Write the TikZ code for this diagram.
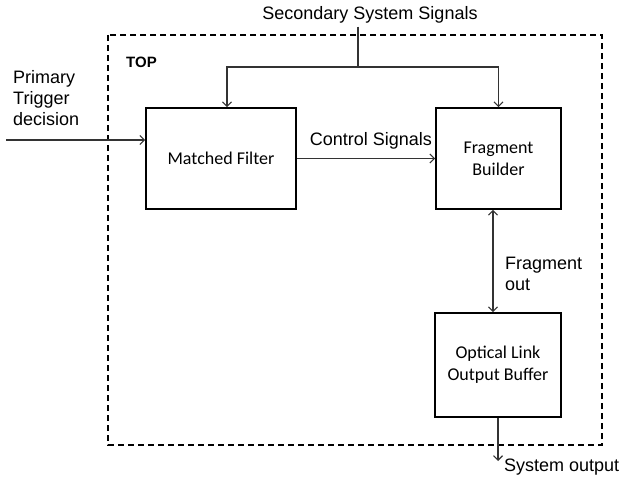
\documentclass[tikz,border=0pt]{standalone}
\usepackage{fontspec}
\setmainfont{Liberation Sans}
\newfontfamily\boxfont{Carlito}
\usetikzlibrary{arrows.meta}
\tikzset{
  block/.style={draw=black, line width=1.8pt, rectangle, inner sep=0pt,
    align=center, font=\boxfont\fontsize{18}{22}\selectfont},
  link/.style={draw=black!80, line width=1.1pt},
  tip/.style={-{Straight Barb[length=4.5pt,width=9pt,line width=1.1pt]}},
  bitip/.style={{Straight Barb[length=4.5pt,width=9pt,line width=1.1pt]}-{Straight Barb[length=4.5pt,width=9pt,line width=1.1pt]}},
  label/.style={inner sep=0pt, align=left, font=\fontsize{18}{20.7}\selectfont},
  frame/.style={draw=black, line width=1.6pt, dash pattern=on 6pt off 4pt}
}
\begin{document}
\begin{tikzpicture}[x=1pt,y=-1pt]
\useasboundingbox (0,0) rectangle (621,478);
\fill[white] (0,0) rectangle (621,478);

% top-level boundary
\draw[frame] (108,35) rectangle (602,445);
\node[inner sep=0pt, anchor=west, font=\bfseries\fontsize{15}{17}\selectfont] (top) at (126,62) {TOP};

% processing blocks
\node[block, minimum width=150pt, minimum height=101pt] (mf) at (221,158.5) {Matched Filter};
\node[block, minimum width=125pt, minimum height=101pt] (fb) at (498.5,158.5) {Fragment\\Builder};
\node[block, minimum width=126pt, minimum height=104pt] (olb) at (498,365) {Optical Link\\Output Buffer};

% external signal labels
\node[label] (sec) at (370,15) {Secondary System Signals};
\node[label, anchor=west] (prim) at (13,98) {Primary\\Trigger\\decision};
\node[label] (ctrl) at (371,141) {Control Signals};
\node[label, anchor=west] (fout) at (505,274) {Fragment\\out};
\node[label, anchor=west] (sout) at (504,467) {System output};

% helper points
\coordinate (split) at (358,67);
\coordinate (in) at (6,140);
\coordinate (fx) at (493,0);
\coordinate (outend) at (499,461);

% secondary signals fan-out
\draw[link] (split |- sec.south) ++(0,3) -- (split);
\draw[link, tip] (split) -| ([xshift=6pt]mf.north);
\draw[link, tip] (split) -| (fb.north);

% primary trigger input
\draw[link, tip] (in) -- (in -| mf.west);

% control signals
\draw[link, tip] (mf.east) -- (fb.west);

% fragment transfer
\draw[link, bitip] (fb.south -| fx) -- (olb.north -| fx);

% system output
\draw[link, tip] (olb.south) -- (olb.south |- outend);
\end{tikzpicture}
\end{document}
